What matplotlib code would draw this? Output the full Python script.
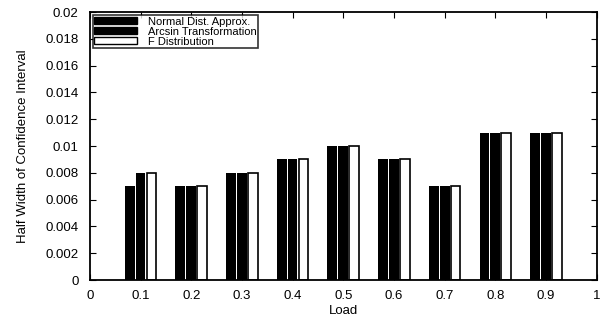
import numpy as np
from matplotlib import pyplot as plt

plt.rcParams['font.family'] = ['Liberation Sans', 'DejaVu Sans']

loads = [0.1, 0.2, 0.3, 0.4, 0.5, 0.6, 0.7, 0.8, 0.9]
normal = [0.007, 0.007, 0.008, 0.009, 0.010, 0.009, 0.007, 0.011, 0.011]
arcsin = [0.008, 0.007, 0.008, 0.009, 0.010, 0.009, 0.007, 0.011, 0.011]
fdist = [0.008, 0.007, 0.008, 0.009, 0.010, 0.009, 0.007, 0.011, 0.011]
labels = ['Normal Dist. Approx.', 'Arcsin Transformation', 'F Distribution']

fig = plt.figure(figsize=(6.07, 3.26), dpi=100)
ax = fig.add_axes([0.148, 0.141, 0.835, 0.822])

x = np.array(loads)
w = 0.0215
bw = w * 0.9
ax.bar(x - w, normal, bw, color='black', linewidth=0, label=labels[0])
ax.bar(x, arcsin, bw, color='black', linewidth=0, label=labels[1])
ax.bar(x + w, fdist, bw, color='white', edgecolor='black', linewidth=1.2, label=labels[2])

ax.set_xlim(0, 1)
ax.set_ylim(0, 0.02)
ax.set_xticks(np.arange(0, 1.01, 0.1))
ax.set_xticklabels(['0', '0.1', '0.2', '0.3', '0.4', '0.5', '0.6', '0.7', '0.8', '0.9', '1'])
ax.set_yticks(np.arange(0, 0.0201, 0.002))
ax.set_yticklabels(['0', '0.002', '0.004', '0.006', '0.008', '0.01', '0.012',
                    '0.014', '0.016', '0.018', '0.02'])
ax.tick_params(direction='in', top=True, right=True, labelsize=9.5, length=4)
ax.tick_params(axis='x', pad=7)
ax.tick_params(axis='y', pad=8)
for s in ax.spines.values():
    s.set_linewidth(1.3)
ax.set_xlabel('Load', fontsize=9.5, labelpad=2)
ax.set_ylabel('Half Width of Confidence Interval', fontsize=9.5, labelpad=12)

leg = ax.legend(loc='upper left', fontsize=8, frameon=True, fancybox=False,
                edgecolor='black', handlelength=3.8, handleheight=0.6,
                labelspacing=0.0, borderpad=0.15, borderaxespad=0.25, handletextpad=1.0)
leg.get_frame().set_linewidth(1.2)
for h in leg.legend_handles:
    h.set_edgecolor('black')
    h.set_linewidth(1.0)

fig.savefig('out.png', dpi=100)
